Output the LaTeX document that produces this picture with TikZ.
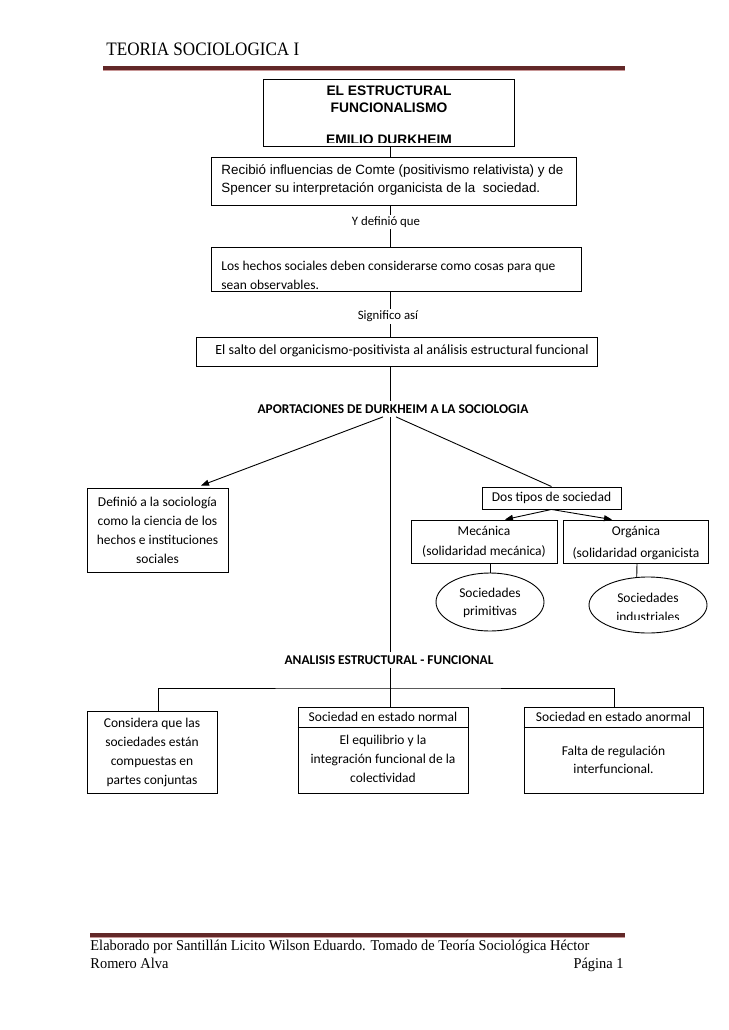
\documentclass[tikz,border=0pt]{standalone}
\usepackage{fontspec}
\setmainfont{Carlito}
\newfontfamily\arialf{Liberation Sans}
\newfontfamily\hdrfont[FakeStretch=0.9]{Liberation Serif}
\newfontfamily\ftrfont[FakeStretch=0.96]{Liberation Serif}
\usetikzlibrary{arrows.meta,shapes.geometric}
\definecolor{hdrred}{RGB}{98,40,40}
\definecolor{hdrlight}{RGB}{200,150,150}
\begin{document}
\begin{tikzpicture}[x=1pt,y=-1pt,line width=0.9pt,
  box/.style={draw,rectangle,inner sep=0pt},
  bodyfont/.style={font=\fontsize{13.5}{19}\selectfont},
  txt/.style={inner sep=0pt,align=center,bodyfont},
  afont/.style={font=\arialf\fontsize{13.4}{18}\selectfont},
  tfont/.style={font=\arialf\bfseries\fontsize{13.8}{16}\selectfont},
  lbl/.style={fill=white,inner sep=2pt,font=\fontsize{12.8}{14}\selectfont},
  ttl/.style={fill=white,inner sep=3pt,font=\bfseries\fontsize{13.4}{15}\selectfont},
  arr/.style={-{Triangle[length=8pt,width=6pt]}},
  oneline/.style={inner sep=0pt,text height=0.7em,text depth=0.2em}]
\useasboundingbox (0,0) rectangle (728,1030);
\fill[white] (0,0) rectangle (728,1030);
% header
\node[oneline,anchor=west,font=\hdrfont\fontsize{19}{22}\selectfont] (hdr) at (106,53) {TEORIA SOCIOLOGICA I};
\draw[line width=3.2pt,hdrred] (103,68) -- (625,68);
\draw[line width=0.8pt,hdrlight] (103,70.5) -- (625,70.5);
% spine coordinate
\coordinate (sp) at (390,0);
% top box
\node[box,minimum width=251pt,minimum height=67pt] (top) at (388.5,112.5) {};
\node[oneline,tfont] (t1) at (389,93.5) {EL ESTRUCTURAL};
\node[oneline,tfont] (t2) at (389,110) {FUNCIONALISMO};
\begin{scope}
\clip (264,80) rectangle (513,142.5);
\node[oneline,tfont] (t3) at (389,142) {EMILIO DURKHEIM};
\end{scope}
% box 2
\node[box,minimum width=365pt,minimum height=48pt] (b2) at (393.5,181) {};
\node[oneline,afont,anchor=west] (b2a) at (221,172) {Recibió influencias de Comte (positivismo relativista) y de};
\node[oneline,afont,anchor=west] (b2b) at (221,190) {Spencer su interpretación organicista de la\ \ sociedad.};
% box 3
\node[box,minimum width=370pt,minimum height=44pt] (b3) at (396,269) {};
\node[oneline,bodyfont,anchor=west] (b3a) at (221,267.5) {Los hechos sociales deben considerarse como cosas para que};
\begin{scope}
\clip (212,250) rectangle (580,289);
\node[oneline,bodyfont,anchor=west] (b3b) at (221,287) {sean observables.};
\end{scope}
% box 4
\node[box,minimum width=401pt,minimum height=29pt] (b4) at (396.5,351.5) {};
\node[oneline,font=\fontsize{14}{19}\selectfont] (b4a) at (402,351.5) {El salto del organicismo-positivista al análisis estructural funcional};
% spine lines
\draw (top.south -| sp) -- (b2.north -| sp);
\draw (b2.south -| sp) -- (b3.north -| sp);
\draw (b3.south -| sp) -- (b4.north -| sp);
\node[lbl] (yd) at (386,222) {Y definió que};
\node[lbl] (sa) at (388,316.5) {Significo así};
% aportaciones
\node[ttl] (ap) at (393,409) {APORTACIONES DE DURKHEIM A LA SOCIOLOGIA};
\node[ttl] (an) at (389,660) {ANALISIS ESTRUCTURAL - FUNCIONAL};
\draw (b4.south -| sp) -- (ap.north -| sp);
\draw (ap.south -| sp) -- (an.north -| sp);
% left box
\node[box,txt,minimum width=141pt,minimum height=84pt] (defb) at (157.5,530)
  {Definió a la sociología\\como la ciencia de los\\hechos e instituciones\\sociales};
\draw[arr] ([xshift=-10pt]ap.south) -- ([xshift=43.5pt,yshift=2pt]defb.north);
% dos tipos
\node[box,txt,minimum width=139pt,minimum height=22pt] (dos) at (551.5,498) {Dos tipos de sociedad};
\draw ([xshift=3pt]ap.south) -- (dos.north);
\node[box,minimum width=146pt,minimum height=43pt] (mec) at (484,541.5) {};
\node[oneline,bodyfont] (meca) at (484,533) {Mecánica};
\node[oneline,bodyfont] (mecb) at (484,552.5) {(solidaridad mecánica)};
\node[box,minimum width=145pt,minimum height=43pt] (org) at (635.5,541.5) {};
\node[oneline,bodyfont] (orga) at (636,533) {Orgánica};
\begin{scope}
\clip (564,521) rectangle (707,561);
\node[oneline,bodyfont] (orgb) at (636,555) {(solidaridad organicista};
\end{scope}
\draw[arr] (dos.south) -- ([xshift=21pt]mec.north);
\draw[arr] (dos.south) -- ([xshift=-23.5pt]org.north);
% ellipses
\node[draw,ellipse,inner sep=0pt,minimum width=108pt,minimum height=58pt] (e1) at (490,602) {};
\node[oneline,bodyfont] (e1a) at (490,594.5) {Sociedades};
\node[oneline,bodyfont] (e1b) at (490,613) {primitivas};
\draw (e1.north |- mec.south) -- (e1.north);
\node[draw,ellipse,inner sep=0pt,minimum width=118pt,minimum height=56pt] (e2) at (648,605) {};
\node[oneline,bodyfont] (e2a) at (648,599.5) {Sociedades};
\begin{scope}
\clip (590,605) rectangle (706,619);
\node[oneline,bodyfont] (e2b) at (648,619) {industriales};
\end{scope}
\draw ([xshift=1.5pt]org.south) -- (e2.112);
% bottom boxes
\node[box,txt,minimum width=130pt,minimum height=82pt,text depth=2pt] (cons) at (152,752)
  {Considera que las\\sociedades están\\compuestas en\\partes conjuntas};
\node[box,minimum width=170pt,minimum height=86pt] (nor) at (383,750) {};
\node[box,minimum width=179pt,minimum height=86pt] (anor) at (613.5,750) {};
\draw ([yshift=-21pt]nor.north west) -- ([yshift=-21pt]nor.north east);
\draw ([yshift=-21pt]anor.north west) -- ([yshift=-21pt]anor.north east);
\node[oneline,bodyfont] (nor1) at (383,719) {Sociedad en estado normal};
\node[txt] (nor2) at (383,758.5) {El equilibrio y la\\integración funcional de la\\colectividad};
\node[oneline,bodyfont] (anor1) at (613.5,719) {Sociedad en estado anormal};
\node[txt,font=\fontsize{13.5}{17.5}\selectfont] (anor2) at (613.5,760) {Falta de regulación\\interfuncional.};
\coordinate (bar) at (390,688);
\draw (an.south -| sp) -- (nor.north -| sp);
\draw ([xshift=6pt]cons.north) |- (bar) -| ([xshift=0.5pt]anor.north);
% footer
\draw[line width=3.2pt,hdrred] (90,935) -- (625,935);
\draw[line width=0.8pt,hdrlight] (90,937.5) -- (625,937.5);
\node[oneline,anchor=west,font=\ftrfont\fontsize{15}{17}\selectfont] (f1) at (90,948) {Elaborado por Santillán Licito Wilson Eduardo. Tomado de Teoría Sociológica Héctor};
\node[oneline,anchor=west,font=\ftrfont\fontsize{15}{17}\selectfont] (f2) at (90,966) {Romero Alva};
\node[oneline,anchor=east,font=\ftrfont\fontsize{15}{17}\selectfont] (f3) at (624,966) {Página 1};
\end{tikzpicture}
\end{document}
